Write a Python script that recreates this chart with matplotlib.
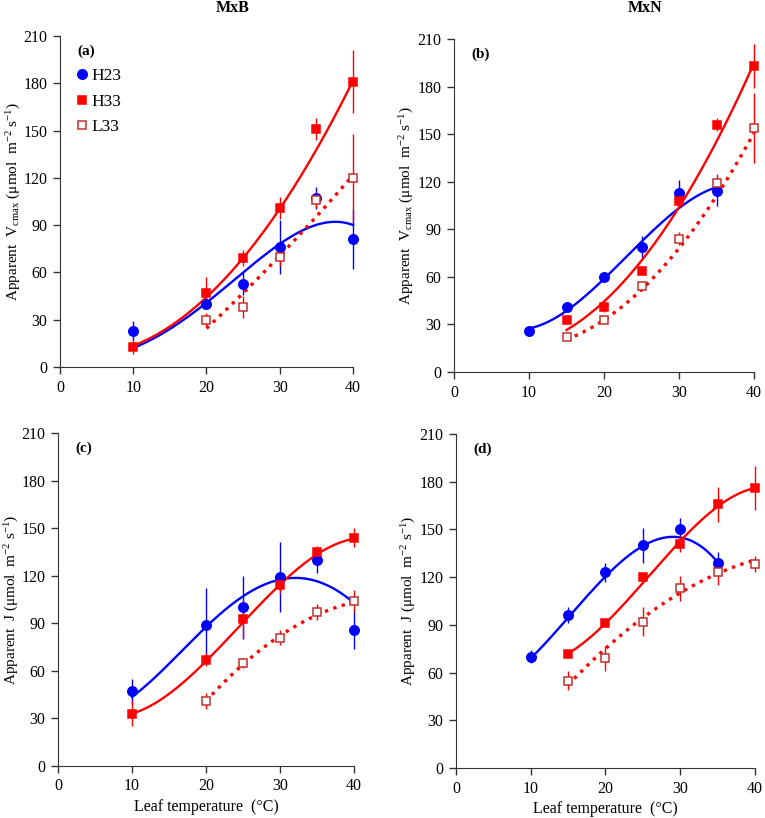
import numpy as np
import matplotlib
matplotlib.use("Agg")
from matplotlib import pyplot as plt

plt.rcParams['font.family'] = ['Liberation Serif', 'DejaVu Serif']
plt.rcParams['mathtext.fontset'] = 'custom'
plt.rcParams['mathtext.rm'] = 'Liberation Serif'
plt.rcParams['mathtext.it'] = 'Liberation Serif:italic'

# ---- data ----
# points: temperature, mean, error; fit: fitted curve read at the same temperatures
# (a) MxB Vcmax
a_h23_t = [10, 20, 25, 30, 35, 40]
a_h23 = [23, 40, 53, 76, 107, 81]
a_h23_e = [6, 3, 7, 17, 7, 19]
a_h23_fit_t = [10, 15, 20, 25, 30, 35, 37, 40]
a_h23_fit = [12, 24.5, 40, 61, 77.5, 90, 92.5, 90]
a_h33_t = [10, 20, 25, 30, 35, 40]
a_h33 = [13, 47, 69, 101, 151, 181]
a_h33_e = [5, 10, 5, 7, 7, 20]
a_h33_fit_t = [10, 15, 20, 25, 30, 35, 40]
a_h33_fit = [12.7, 27, 45, 68, 99, 140, 181]
a_l33_t = [20, 25, 30, 35, 40]
a_l33 = [30, 38, 70, 106, 120]
a_l33_e = [4, 7, 6, 5, 28]
a_l33_fit = [24.5, 47, 70, 96, 121.5]

# (b) MxN Vcmax
b_h23_t = [10, 15, 20, 25, 30, 35]
b_h23 = [26, 41, 60, 79, 113, 114]
b_h23_e = [2, 3, 3, 7, 8, 9]
b_h23_fit = [27, 40, 58, 81, 105, 116]
b_h33_t = [15, 20, 25, 30, 35, 40]
b_h33 = [33, 41, 64, 108, 156, 193]
b_h33_e = [3, 3, 3, 3, 4, 14]
b_h33_fit = [28, 42.5, 69, 104.5, 148.5, 193]
b_l33_t = [15, 20, 25, 30, 35, 40]
b_l33 = [22, 33, 54, 84, 119, 154]
b_l33_e = [2, 2, 3, 4, 6, 22]
b_l33_fit = [20.5, 33, 52, 78, 111, 151]

# (c) MxB J
c_h23_t = [10, 20, 25, 30, 35, 40]
c_h23 = [47, 89, 100, 119, 130, 86]
c_h23_e = [8, 23, 20, 22, 8, 12]
c_h23_fit_t = [10, 15, 20, 25, 30, 32, 35, 40]
c_h23_fit = [43.5, 65, 87, 107, 117.7, 119.5, 115.5, 103]
c_h33_t = [10, 20, 25, 30, 35, 40]
c_h33 = [33, 67, 93, 114, 135, 144]
c_h33_e = [8, 4, 12, 5, 4, 6]
c_h33_fit_t = [10, 15, 20, 25, 30, 35, 40]
c_h33_fit = [33.5, 44, 67, 91, 114, 133, 143.5]
c_l33_t = [20, 25, 30, 35, 40]
c_l33 = [41, 65, 81, 97, 104]
c_l33_e = [5, 3, 5, 5, 7]
c_l33_fit = [40.5, 65, 81.5, 95, 103.5]

# (d) MxN J
d_h23_t = [10, 15, 20, 25, 30, 35]
d_h23 = [70, 96, 123, 140, 150, 129]
d_h23_e = [4, 5, 6, 11, 7, 7]
d_h23_fit_t = [10, 15, 20, 25, 28, 30, 35]
d_h23_fit = [69, 94.5, 120.5, 139.5, 145.5, 144.5, 129.5]
d_h33_t = [15, 20, 25, 30, 35, 40]
d_h33 = [72, 91, 120, 141, 166, 176]
d_h33_e = [2, 2, 2, 5, 11, 14]
d_h33_fit = [72, 91, 116.5, 142.5, 164.5, 176]
d_l33_t = [15, 20, 25, 30, 35, 40]
d_l33 = [55, 69, 92, 113, 123, 128]
d_l33_e = [6, 8, 9, 8, 8, 5]
d_l33_fit = [54.5, 71.5, 93.5, 112, 124.5, 129]

blue = '#0000ff'
red = '#ff0000'
dark_red = '#c0302c'

vc_label = r'Apparent  V$_{\rm cmax}$ (μmol  m$^{-2}$ s$^{-1}$)'
j_label = r'Apparent  J (μmol  m$^{-2}$ s$^{-1}$)'

# each series: points t, mean, err, curve t, curve values, smoothing degree
panels = [
    ('(a)', [0.0784, 0.5513, 0.383, 0.4046], vc_label,
     [(a_h23_t, a_h23, a_h23_e, a_h23_fit_t, a_h23_fit, 4),
      (a_h33_t, a_h33, a_h33_e, a_h33_fit_t, a_h33_fit, 2),
      (a_l33_t, a_l33, a_l33_e, a_l33_t, a_l33_fit, 2)]),
    ('(b)', [0.5935, 0.5452, 0.3922, 0.4071], vc_label,
     [(b_h23_t, b_h23, b_h23_e, b_h23_t, b_h23_fit, 3),
      (b_h33_t, b_h33, b_h33_e, b_h33_t, b_h33_fit, 2),
      (b_l33_t, b_l33, b_l33_e, b_l33_t, b_l33_fit, 2)]),
    ('(c)', [0.0758, 0.0636, 0.3869, 0.4071], j_label,
     [(c_h23_t, c_h23, c_h23_e, c_h23_fit_t, c_h23_fit, 4),
      (c_h33_t, c_h33, c_h33_e, c_h33_fit_t, c_h33_fit, 3),
      (c_l33_t, c_l33, c_l33_e, c_l33_t, c_l33_fit, 2)]),
    ('(d)', [0.5961, 0.0611, 0.3908, 0.4083], j_label,
     [(d_h23_t, d_h23, d_h23_e, d_h23_fit_t, d_h23_fit, 3),
      (d_h33_t, d_h33, d_h33_e, d_h33_t, d_h33_fit, 3),
      (d_l33_t, d_l33, d_l33_e, d_l33_t, d_l33_fit, 2)]),
]

styles = [
    dict(marker='o', color=blue, mfc=blue, mec=blue, ms=6.8, ls='-', label='H23'),
    dict(marker='s', color=red, mfc=red, mec=red, ms=6.3, ls='-', label='H33'),
    dict(marker='s', color=red, mfc='white', mec=dark_red, ms=6.0, ls=':', label='L33'),
]

fig = plt.figure(figsize=(7.65, 8.18), dpi=100)

for label, pos, ylab, series in panels:
    ax = fig.add_axes(pos)
    for (t, v, e, ft, fv, deg), st in zip(series, styles):
        # smooth fitted curve (polynomial through the read-off curve values)
        ft = np.array(ft, float)
        coef = np.polyfit(ft, fv, deg)
        tt = np.linspace(ft.min(), ft.max(), 200)
        ax.plot(tt, np.polyval(coef, tt), color=st['color'], ls=st['ls'],
                lw=2.4 if st['ls'] == ':' else 1.7, zorder=2, clip_on=False)
        ax.errorbar(t, v, yerr=e, fmt='none', ecolor=st['color'], elinewidth=1.0,
                    capsize=0, zorder=2, clip_on=False)
        ax.plot(t, v, ls='none', marker=st['marker'], mfc=st['mfc'], mec=st['mec'],
                ms=st['ms'], mew=1.1, zorder=3, clip_on=False, label=st['label'])
    ax.set_xlim(0, 40)
    ax.set_ylim(0, 210)
    ax.set_xticks([0, 10, 20, 30, 40])
    ax.set_yticks(range(0, 211, 30))
    ax.spines['top'].set_visible(False)
    ax.spines['right'].set_visible(False)
    for s in ('left', 'bottom'):
        ax.spines[s].set_color('#333333')
    ax.tick_params(direction='out', length=5, width=1, color='#333333',
                   labelsize=11.5, pad=4)
    ax.set_ylabel(ylab, fontsize=11)
    ax.yaxis.set_label_coords(-0.126, 0.5)
    ax.text(0.058, 0.955, label, transform=ax.transAxes, fontsize=11,
            fontweight='bold', va='center', ha='left')
    if label == '(a)':
        ax.legend(loc='upper left', bbox_to_anchor=(0.005, 0.925), frameon=False,
                  fontsize=12.5, handletextpad=-0.3, handlelength=1.6,
                  labelspacing=0.55, borderaxespad=0)
    if label in ('(c)', '(d)'):
        ax.set_xlabel('Leaf temperature  (°C)', fontsize=11.5, labelpad=3)

fig.text(233 / 765, 1 - 8 / 818, 'MxB', ha='center', va='center',
         fontsize=11.5, fontweight='bold')
fig.text(645 / 765, 1 - 8 / 818, 'MxN', ha='center', va='center',
         fontsize=11.5, fontweight='bold')

fig.savefig('out.png', dpi=100)
